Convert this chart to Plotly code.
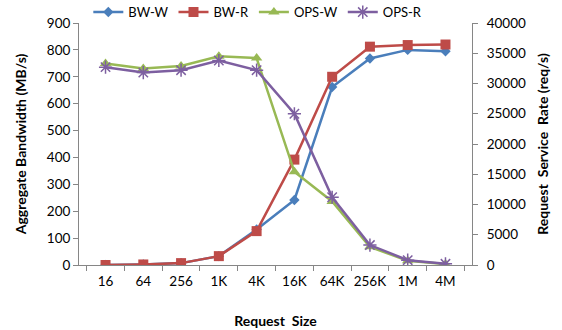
import plotly.graph_objects as go

sizes = ["16", "64", "256", "1K", "4K", "16K", "64K", "256K", "1M", "4M"]
bw_w = [0, 2, 7, 33, 132, 242, 662, 768, 800, 795]
bw_r = [0, 2, 7, 33, 126, 392, 700, 812, 818, 820]
ops_w = [33300, 32500, 32900, 34500, 34200, 15400, 10500, 3000, 700, 150]
ops_r = [32700, 31800, 32200, 33800, 32200, 25000, 11200, 3300, 800, 200]

font = "Lato, 'Open Sans', sans-serif"
fig = go.Figure()
fig.add_trace(go.Scatter(x=sizes, y=bw_w, name="BW-W", mode="lines+markers",
                         line=dict(color="#4A7EBB", width=2.5),
                         marker=dict(symbol="diamond", size=8, color="#4A7EBB")))
fig.add_trace(go.Scatter(x=sizes, y=bw_r, name="BW-R", mode="lines+markers",
                         line=dict(color="#BE4B48", width=2.5),
                         marker=dict(symbol="square", size=10, color="#BE4B48")))
fig.add_trace(go.Scatter(x=sizes, y=ops_w, name="OPS-W", mode="lines+markers", yaxis="y2",
                         line=dict(color="#98B954", width=2.5),
                         marker=dict(symbol="triangle-up", size=10, color="#98B954")))
fig.add_trace(go.Scatter(x=sizes, y=ops_r, name="OPS-R", mode="lines+markers", yaxis="y2",
                         line=dict(color="#7D5FA0", width=2.5),
                         marker=dict(symbol="asterisk-open", size=11,
                                     line=dict(color="#7D5FA0", width=1.5))))

axis_common = dict(showline=True, linecolor="#868686", linewidth=1, showgrid=False,
                   zeroline=False, ticks="outside", ticklen=5, tickcolor="#868686",
                   tickfont=dict(size=13.5, color="#000000", family=font))

fig.update_layout(
    width=562, height=330,
    margin=dict(l=79, r=90, t=23, b=65, autoexpand=False),
    paper_bgcolor="white", plot_bgcolor="white",
    font=dict(family=font, color="#000000"),
    showlegend=True,
    legend=dict(orientation="h", x=0.455, xanchor="center", y=1.045, yanchor="middle",
                font=dict(size=13, family=font), bgcolor="rgba(0,0,0,0)",
                itemwidth=30, tracegroupgap=0),
    xaxis=dict(**axis_common, type="category", tickson="boundaries", tickangle=0,
               ticklabelstandoff=4,
               title=dict(text="<b>Request  Size</b>", font=dict(size=14, family=font), standoff=27)),
    yaxis=dict(**axis_common, range=[0, 900], dtick=100,
               title=dict(text="<b>Aggregate Bandwidth (MB/s)</b>", font=dict(size=14, family=font), standoff=16)),
    yaxis2=dict(**axis_common, range=[0, 40000], dtick=5000, overlaying="y", side="right",
                tickformat="d", ticklabelstandoff=6,
                title=dict(text="<b>Request  Service  Rate (req/s)</b>", font=dict(size=14, family=font), standoff=13)),
)

fig.write_html("out.html", config={"displayModeBar": False},
               post_script="document.body.style.margin='0';")
